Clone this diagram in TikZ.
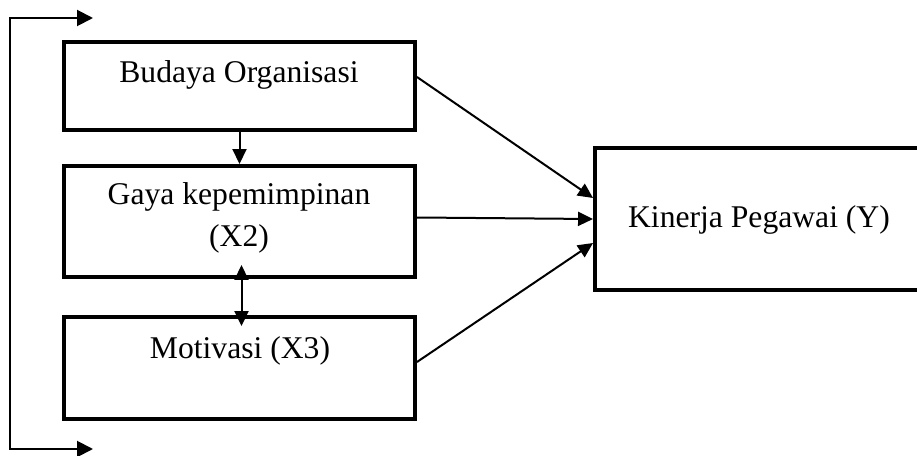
\documentclass[tikz,border=0pt]{standalone}
\usepackage{fontspec}
\setmainfont{Liberation Serif}
\usepackage{tikz}
\usetikzlibrary{positioning}
\usetikzlibrary{arrows.meta}
\usetikzlibrary{calc}

\begin{document}
\begin{tikzpicture}[
x=0.02cm, y=-0.02cm,
box/.style={
  rectangle,
  draw=black,
  line width=0.08cm,
  inner sep=0pt
},
txt/.style={
  inner sep=0pt,
  align=center,
  font=\fontsize{18}{23.8}\selectfont
},
  arr/.style={-{Triangle[length=0.3cm,width=0.28cm]}, line width=0.04cm},
  darr/.style={{Triangle[length=0.3cm,width=0.28cm]}-{Triangle[length=0.3cm,width=0.28cm]}, line width=0.04cm},
  brarr/.style={{Triangle[length=0.32cm,width=0.32cm]}-{Triangle[length=0.32cm,width=0.32cm]}, line width=0.04cm}
]
\useasboundingbox (0,0) rectangle (917,456);

% ---- LEFT SIDE: the three factors ----
\node[box, minimum width=7.02cm, minimum height=1.76cm] (budaya) at (239.5, 86) {};
\node[box, minimum width=7.02cm, minimum height=2.22cm] (gaya) at (239.5, 221.5) {};
\node[box, minimum width=7.02cm, minimum height=2.04cm] (motivasi) at (239.5, 368) {};

\node[txt, anchor=base] (budayatxt) at (239, 83) {Budaya Organisasi};
\node[txt] (gayatxt) at (239, 218) {Gaya kepemimpinan\\(X2)};
\node[txt, anchor=base] (motivasitxt) at (240, 358) {Motivasi (X3)};

% ---- RIGHT SIDE: outcome ----
\node[box, minimum width=6.6cm, minimum height=2.84cm] (kinerja) at (760, 219) {};
\node[txt, anchor=base] (kinerjatxt) at (759, 228) {Kinerja Pegawai (Y)};

% ---- links between the factors ----
\draw[arr] (budaya.south) -- (gaya.north);
\draw[darr] ($(gaya.south)+(2,-14)$) -- ($(motivasi.north)+(2,11)$);

% ---- links to the outcome ----
\draw[arr] ($(budaya.east)+(0,-9)$) -- ($(kinerja.west)+(0,-21)$);
\draw[arr] ($(gaya.east)+(0,-4)$) -- (kinerja.west);
\draw[arr] ($(motivasi.east)+(0,-6)$) -- ($(kinerja.west)+(0,24)$);

% ---- outer bracket ----
\coordinate (brtop) at (93, 18);
\coordinate (brtopc) at (10, 18);
\coordinate (brbotc) at (10, 449);
\coordinate (brbot) at (93, 449);
\draw[brarr] (brtop) -- (brtopc) -- (brbotc) -- (brbot);

\end{tikzpicture}
\end{document}
